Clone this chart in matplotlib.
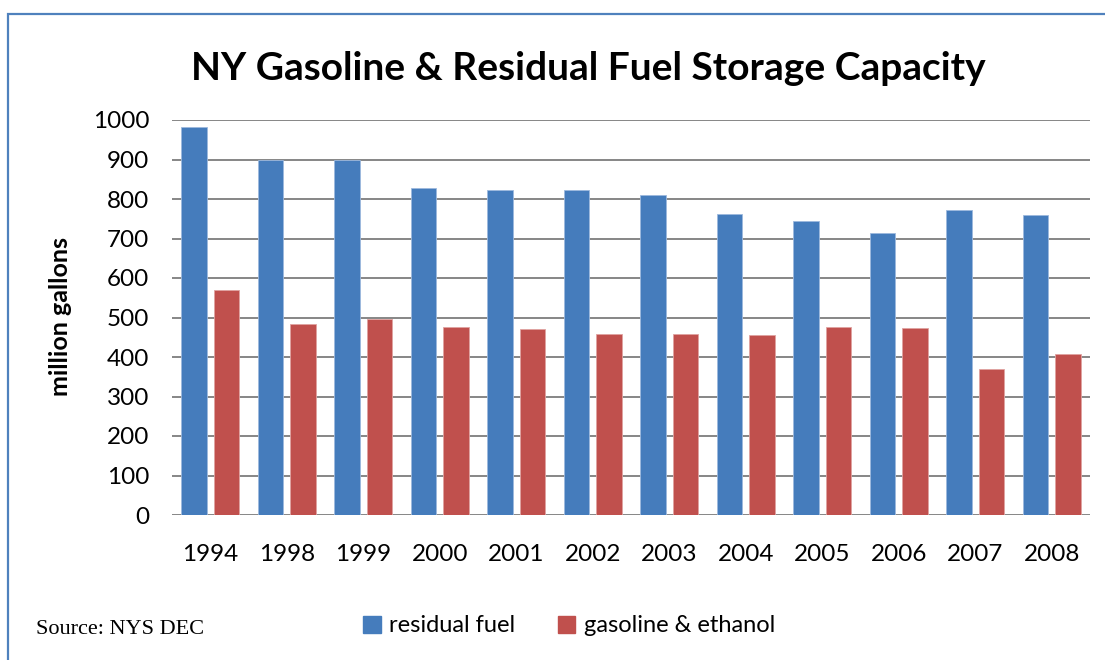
import matplotlib.pyplot as plt
import numpy as np
from matplotlib.patches import Rectangle, Patch

# data (million gallons)
years = ['1994', '1998', '1999', '2000', '2001', '2002', '2003',
         '2004', '2005', '2006', '2007', '2008']
residual_fuel = [982, 900, 900, 827, 823, 823, 809, 763, 745, 714, 773, 759]
gasoline_ethanol = [570, 484, 496, 476, 471, 457, 458, 455, 477, 474, 369, 408]

blue = '#457CBC'
red = '#C0504D'
font = 'Lato'

fig = plt.figure(figsize=(11.05, 6.6), dpi=100)
ax = fig.add_axes([172 / 1105, 1 - 515 / 660, 918 / 1105, 395 / 660])

x = np.arange(len(years))
width = 0.33
ax.bar(x - 0.213, residual_fuel, width, color=blue, edgecolor='#9DB9DE',
       linewidth=0.6, zorder=3)
ax.bar(x + 0.213, gasoline_ethanol, width, color=red, edgecolor='#E0A3A1',
       linewidth=0.6, zorder=3)

ax.set_xlim(-0.5, len(years) - 0.5)
ax.set_ylim(0, 1000)
ax.set_yticks(range(0, 1001, 100))
ax.set_xticks(x)
ax.set_xticklabels(years)
ax.grid(axis='y', color='#868686', linewidth=1.4, zorder=0)
ax.tick_params(axis='both', length=0, labelsize=17.5)
ax.tick_params(axis='y', pad=16.5)
ax.tick_params(axis='x', pad=21)
for lab in ax.get_xticklabels() + ax.get_yticklabels():
    lab.set_fontfamily(font)
for s in ax.spines.values():
    s.set_visible(False)

fig.text(60 / 1105, 1 - 317 / 660, 'million gallons', rotation=90,
         ha='center', va='center', fontsize=18, fontweight='bold', family=font)
fig.text(588 / 1105, 1 - 68 / 660,
         'NY Gasoline & Residual Fuel Storage Capacity',
         ha='center', va='center', fontsize=28, fontweight='bold', family=font)
fig.text(36 / 1105, 1 - 630 / 660, 'Source: NYS DEC', ha='left', va='center',
         fontsize=16, family='Liberation Serif')

handles = [Patch(color=blue, label='residual fuel'),
           Patch(color=red, label='gasoline & ethanol')]
fig.legend(handles=handles, loc='center', bbox_to_anchor=(569 / 1105, 1 - 626 / 660),
           ncol=2, frameon=False, handlelength=0.75, handleheight=0.75,
           handletextpad=0.35, columnspacing=1.8,
           prop={'family': font, 'size': 17})

# border of the chart area (runs off the right and bottom edge)
fig.patches.append(Rectangle((8 / 1105, -0.1), 1.2, 1.1 - 14 / 660,
                             transform=fig.transFigure, fill=False,
                             edgecolor='#4F81BD', linewidth=1.6))

fig.savefig('out.png', dpi=100)
